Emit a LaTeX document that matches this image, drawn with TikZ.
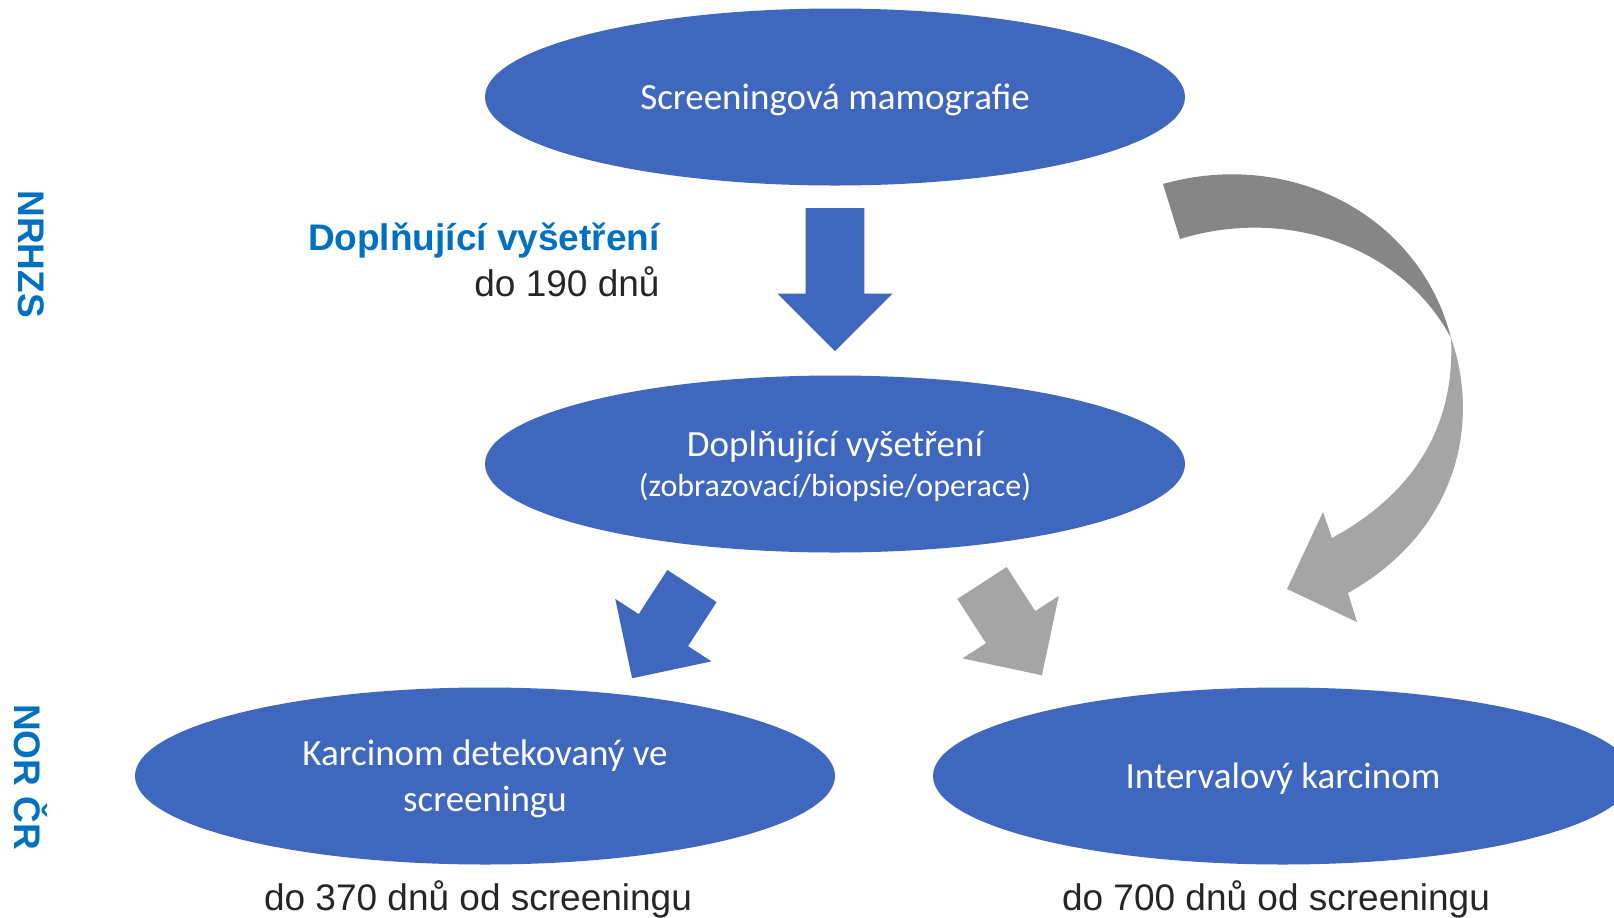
\documentclass[tikz,border=0pt]{standalone}
\usepackage{fontspec}
\setmainfont{Liberation Sans}
\newfontfamily\calibri{Carlito}
\usetikzlibrary{shapes.geometric,shapes.arrows}

\definecolor{ovalblue}{RGB}{63,103,190}
\definecolor{labelblue}{RGB}{0,112,192}
\definecolor{darktext}{RGB}{38,38,38}
\definecolor{arrowgray}{RGB}{165,165,165}
\definecolor{arrowdark}{RGB}{134,134,134}

\tikzset{
  ovalnode/.style={ellipse, fill=ovalblue, text=white, minimum width=350pt,
    minimum height=88.5pt, inner sep=0pt, align=center, text depth=0pt,
    font=\calibri\fontsize{18.5}{23}\selectfont},
  blockarrow/.style={single arrow, fill=#1, inner xsep=0pt, inner ysep=14.5pt,
    single arrow head extend=14pt, anchor=tail, outer sep=0pt},
  plaintext/.style={inner sep=0pt, text=darktext, font=\fontsize{18.5}{22}\selectfont},
  sidelabel/.style={inner sep=0pt, text=labelblue, font=\bfseries\fontsize{18.5}{22}\selectfont}
}

\begin{document}
\begin{tikzpicture}[x=0.5pt, y=-0.5pt]
        \useasboundingbox (0,0) rectangle (1614,917);
        \node[ovalnode] (mammo) at (835,97) {Screeningová mamografie};
        \node[ovalnode, font=\calibri\fontsize{18.5}{20}\selectfont] (dopl) at (835,464)
            {Doplňující vyšetření\\{\fontsize{16}{20}\selectfont (zobrazovací/biopsie/operace)}};
        \node[ovalnode] (detek) at (485,776) {Karcinom detekovaný ve\\screeningu};
        \node[ovalnode] (interv) at (1283,776) {Intervalový karcinom};
        \node[blockarrow=ovalblue, rotate=-90, minimum height=71.5pt] (down) at (835,208) {};
        \node[blockarrow=ovalblue, rotate=-123, minimum height=55pt] (toDetek) at (692,586) {};
        \node[blockarrow=arrowgray, rotate=-57, minimum height=55pt] (toInterv) at (982,583) {};
        \fill[arrowdark] (1163,184) .. controls (1290,148) and (1420,215) .. (1451,338)
            .. controls (1405,250) and (1290,205) .. (1180,239) -- cycle;
        \fill[arrowgray] (1451,338) .. controls (1480,420) and (1460,530) .. (1348,593)
            -- (1357,622) -- (1287,589) -- (1323,512) -- (1332,538)
            .. controls (1420,490) and (1455,420) .. (1451,338) -- cycle;
        \node[sidelabel, anchor=east] (dopltitle) at (660,241) {Doplňující vyšetření};
        \node[plaintext, anchor=east] (doplterm) at (660,282) {do 190 dnů};
        \node[plaintext] (detekterm) at (478,899) {do 370 dnů od screeningu};
        \node[plaintext] (intervterm) at (1276,899) {do 700 dnů od screeningu};
        \node[sidelabel, rotate=-90] (nrhzs) at (31,254) {NRHZS};
        \node[sidelabel, rotate=-90] (norcr) at (31,777) {NOR ČR};
    \end{tikzpicture}
\end{document}
